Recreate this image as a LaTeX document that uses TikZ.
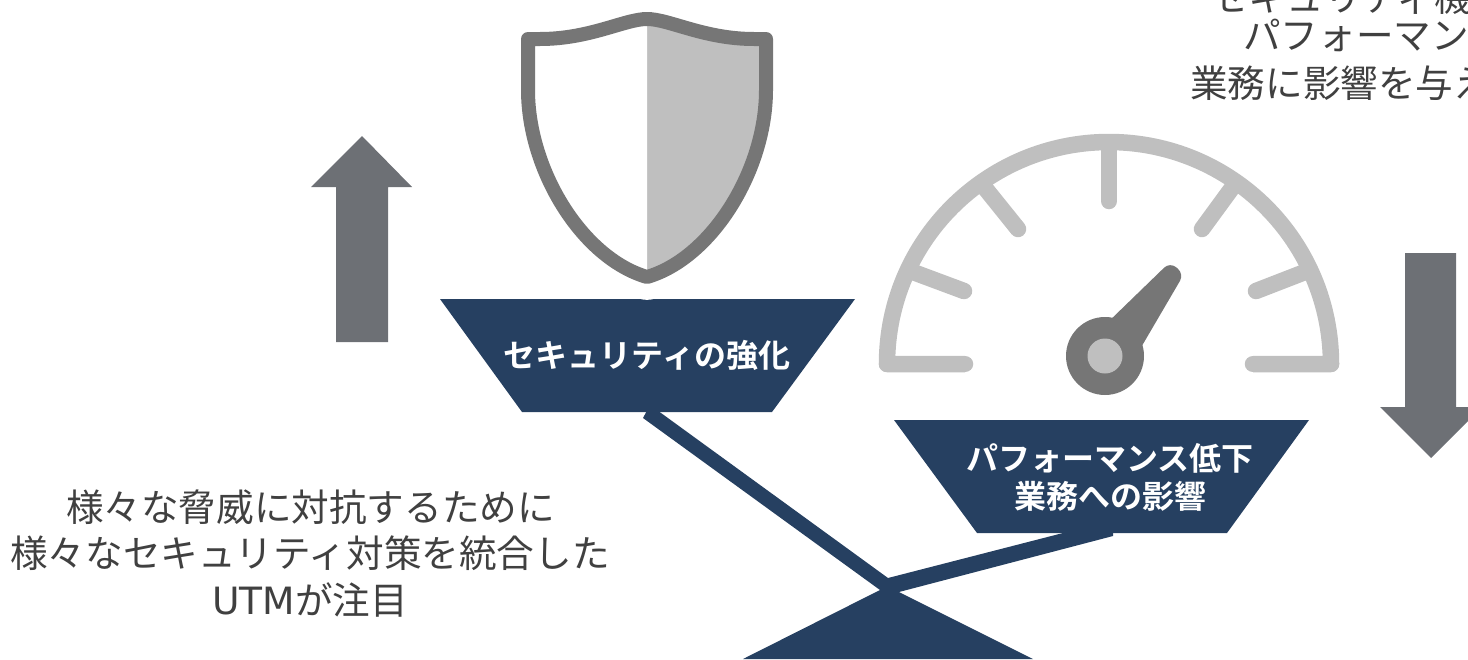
\documentclass[tikz,border=0pt]{standalone}
\usepackage{fontspec}
\setmainfont{Noto Sans CJK JP}[BoldFont={Noto Sans CJK JP Bold}]
\newfontfamily\latinpart{DejaVu Sans}
\definecolor{navy}{HTML}{264061}
\definecolor{darkg}{HTML}{767676}
\definecolor{lightg}{HTML}{BFBFBF}
\definecolor{arrowg}{HTML}{6D7075}
\definecolor{bodytxt}{HTML}{404040}
\tikzset{
  bodytext/.style={inner sep=0pt,text=bodytxt,font=\fontsize{37.6}{47}\selectfont},
  pantext/.style={inner sep=0pt,text=white,align=center,font=\fontsize{32}{38}\selectfont\bfseries},
  pan/.style={fill=navy,draw=none},
  tick/.style={draw=lightg,line width=16.5pt,line cap=round},
  bigarrow/.style={fill=arrowg,draw=none}
}
\begin{document}
\begin{tikzpicture}[x=1pt,y=-1pt]
\useasboundingbox (0,0) rectangle (1468,659);
\begin{scope}
\clip (0,0) rectangle (1468,659);
% shield
\fill[lightg] (647,19) .. controls (625,19) and (590,39) .. (540,39) -- (528,39) -- (528,90) .. controls (528,170) and (582,258) .. (647,277)
 .. controls (712,258) and (766,170) .. (766,90) -- (766,39) -- (754,39) .. controls (704,39) and (669,19) .. (647,19) -- cycle;
\fill[white] (647,19) .. controls (625,19) and (590,39) .. (540,39) -- (528,39) -- (528,90) .. controls (528,170) and (582,258) .. (647,277) -- cycle;
\draw[darkg,line width=14pt,line join=round] (647,19) .. controls (625,19) and (590,39) .. (540,39) -- (528,39) -- (528,90) .. controls (528,170) and (582,258) .. (647,277)
 .. controls (712,258) and (766,170) .. (766,90) -- (766,39) -- (754,39) .. controls (704,39) and (669,19) .. (647,19) -- cycle;
% gauge
\draw[lightg,line width=16.5pt,line join=round] (965,364) -- (887,364) arc[start angle=180,end angle=360,radius=222] -- (1253,364);
\draw[tick] (965,364) -- (887,364);
\draw[tick] (1253,364) -- (1331,364);
\draw[tick] (1109,143) -- (1109,201);
\draw[tick] (985,188) -- (1018,229);
\draw[tick] (1232,188) -- (1202,229);
\draw[tick] (913,272) -- (964,291);
\draw[tick] (1305,272) -- (1256,291);
\fill[darkg] (1105,356) circle[radius=39];
\fill[darkg,rounded corners=8pt] (1105,325) -- (1170,262) -- (1184,274) -- (1136,356) -- cycle;
\fill[lightg] (1105,356) circle[radius=17.5];
% beam
\fill[navy] (643,418) -- (650,405) -- (888,578) -- (1063,533) -- (1113,533) -- (1113,536) -- (899,592) -- (1033,659) -- (743,659) -- (880,590) -- cycle;
% pans
\fill[pan] (440,299) -- (855,299) -- (772,412) -- (522,412) -- cycle;
\fill[pan] (894,420) -- (1309,420) -- (1227,533) -- (977,533) -- cycle;
\fill[white] (647,298.3) ellipse[x radius=7,y radius=1.5];
% arrows
\fill[bigarrow] (362,136) -- (412,187) -- (388,187) -- (388,342) -- (336,342) -- (336,187) -- (311,187) -- cycle;
\fill[bigarrow] (1405,253) -- (1456,253) -- (1456,407) -- (1482,407) -- (1431,458) -- (1380,407) -- (1405,407) -- cycle;
% texts
\node[pantext] (panA) at (647,355.5) {セキュリティの強化};
\node[pantext] (panB) at (1110,477) {パフォーマンス低下\\業務への影響};
\node[bodytext] (l1) at (310.5,507.5) {様々な脅威に対抗するために};
\node[bodytext] (l2) at (310,553.5) {様々なセキュリティ対策を統合した};
\node[bodytext] (l3) at (310,599.5) {{\latinpart UTM}が注目};
\node[bodytext,anchor=west] (r1) at (1211,-3) {セキュリティ機能};
\node[bodytext,anchor=west] (r2) at (1243,35) {パフォーマンス};
\node[bodytext,anchor=west] (r3) at (1190,83) {業務に影響を与える};
\end{scope}
\end{tikzpicture}
\end{document}
